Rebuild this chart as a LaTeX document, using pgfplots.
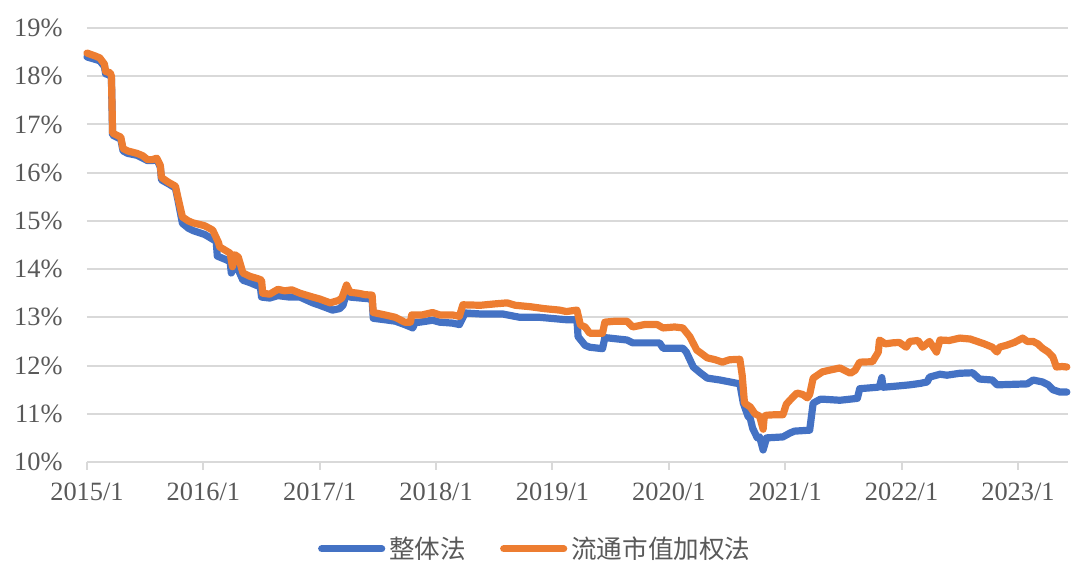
\documentclass[border=0pt]{standalone}
\usepackage{pgfplots}
\pgfplotsset{compat=1.18}
\usepackage{pgfplotstable}
\usepackage{fontspec}
\setmainfont{Liberation Serif}
\newfontfamily\cjk{Noto Sans CJK SC}
\definecolor{sblue}{HTML}{4472C4}
\definecolor{sorange}{HTML}{ED7D31}
\definecolor{gridc}{HTML}{D9D9D9}
\definecolor{txt}{HTML}{595959}

\pgfplotstableread{
t v
2015.00 18.40
2015.07 18.35
2015.11 18.32
2015.15 18.20
2015.16 18.05
2015.20 18.02
2015.21 17.95
2015.22 16.78
2015.27 16.72
2015.29 16.70
2015.31 16.45
2015.35 16.40
2015.43 16.36
2015.48 16.30
2015.52 16.25
2015.56 16.25
2015.60 16.27
2015.63 16.12
2015.64 15.85
2015.70 15.77
2015.76 15.68
2015.78 15.45
2015.82 14.95
2015.87 14.85
2015.91 14.80
2016.01 14.72
2016.08 14.62
2016.11 14.58
2016.12 14.27
2016.20 14.19
2016.23 14.15
2016.24 13.92
2016.27 14.10
2016.29 14.04
2016.34 13.77
2016.40 13.72
2016.49 13.63
2016.50 13.42
2016.57 13.40
2016.64 13.45
2016.74 13.42
2016.83 13.42
2016.94 13.30
2017.00 13.25
2017.11 13.15
2017.17 13.18
2017.20 13.25
2017.23 13.50
2017.26 13.42
2017.35 13.40
2017.45 13.38
2017.46 12.98
2017.56 12.95
2017.65 12.92
2017.73 12.85
2017.80 12.78
2017.82 12.90
2017.86 12.90
2017.97 12.94
2018.03 12.90
2018.14 12.88
2018.20 12.85
2018.25 13.09
2018.38 13.07
2018.57 13.07
2018.72 13.00
2018.89 13.00
2019.12 12.95
2019.21 12.95
2019.22 12.60
2019.28 12.42
2019.32 12.38
2019.43 12.35
2019.45 12.58
2019.64 12.53
2019.69 12.47
2019.92 12.47
2019.95 12.36
2020.12 12.36
2020.15 12.28
2020.21 11.97
2020.27 11.85
2020.33 11.74
2020.44 11.70
2020.61 11.62
2020.64 11.22
2020.68 10.95
2020.70 10.90
2020.72 10.70
2020.76 10.50
2020.78 10.52
2020.81 10.25
2020.84 10.50
2020.98 10.52
2021.04 10.60
2021.08 10.64
2021.21 10.66
2021.24 11.22
2021.30 11.30
2021.34 11.30
2021.47 11.28
2021.62 11.32
2021.64 11.52
2021.79 11.55
2021.81 11.56
2021.83 11.75
2021.84 11.55
2021.94 11.57
2022.07 11.60
2022.16 11.63
2022.22 11.66
2022.24 11.76
2022.33 11.82
2022.39 11.80
2022.50 11.84
2022.61 11.85
2022.67 11.72
2022.78 11.70
2022.82 11.60
2023.08 11.62
2023.13 11.70
2023.21 11.66
2023.26 11.60
2023.30 11.50
2023.36 11.45
2023.42 11.45
}\blue

\pgfplotstableread{
t v
2015.00 18.48
2015.07 18.42
2015.11 18.38
2015.15 18.25
2015.16 18.10
2015.20 18.07
2015.21 18.00
2015.22 16.82
2015.27 16.76
2015.29 16.74
2015.31 16.50
2015.35 16.45
2015.43 16.40
2015.48 16.35
2015.52 16.27
2015.56 16.27
2015.60 16.30
2015.63 16.15
2015.64 15.90
2015.70 15.80
2015.76 15.72
2015.78 15.50
2015.82 15.08
2015.87 15.00
2015.91 14.96
2016.01 14.90
2016.08 14.81
2016.13 14.55
2016.14 14.46
2016.23 14.33
2016.25 14.05
2016.27 14.30
2016.30 14.25
2016.34 13.92
2016.40 13.85
2016.47 13.80
2016.50 13.77
2016.51 13.50
2016.57 13.48
2016.64 13.58
2016.70 13.55
2016.76 13.57
2016.83 13.50
2016.94 13.42
2017.00 13.38
2017.09 13.30
2017.16 13.35
2017.19 13.40
2017.23 13.67
2017.26 13.52
2017.33 13.50
2017.39 13.47
2017.45 13.46
2017.46 13.10
2017.56 13.05
2017.65 13.00
2017.73 12.90
2017.78 12.90
2017.79 13.05
2017.88 13.05
2017.97 13.10
2018.03 13.05
2018.14 13.05
2018.20 13.02
2018.23 13.26
2018.38 13.25
2018.51 13.28
2018.61 13.30
2018.68 13.25
2018.81 13.22
2018.93 13.18
2019.06 13.15
2019.12 13.12
2019.21 13.15
2019.24 12.84
2019.28 12.80
2019.32 12.67
2019.43 12.67
2019.45 12.90
2019.54 12.92
2019.64 12.92
2019.69 12.80
2019.79 12.85
2019.90 12.85
2019.95 12.78
2020.05 12.80
2020.12 12.78
2020.18 12.60
2020.24 12.32
2020.28 12.25
2020.33 12.16
2020.40 12.12
2020.46 12.07
2020.52 12.12
2020.61 12.13
2020.63 11.80
2020.65 11.22
2020.70 11.14
2020.74 11.00
2020.78 10.95
2020.81 10.68
2020.82 10.95
2020.84 10.97
2020.91 10.98
2020.98 10.98
2021.01 11.20
2021.04 11.28
2021.10 11.43
2021.15 11.40
2021.19 11.33
2021.21 11.40
2021.24 11.74
2021.32 11.87
2021.41 11.92
2021.47 11.95
2021.56 11.84
2021.60 11.90
2021.64 12.07
2021.75 12.08
2021.78 12.20
2021.80 12.28
2021.81 12.53
2021.86 12.45
2021.92 12.47
2021.98 12.48
2022.04 12.38
2022.07 12.50
2022.14 12.52
2022.18 12.38
2022.24 12.50
2022.30 12.28
2022.33 12.53
2022.41 12.52
2022.50 12.57
2022.59 12.55
2022.65 12.50
2022.71 12.45
2022.78 12.38
2022.82 12.28
2022.84 12.38
2022.90 12.42
2022.97 12.48
2023.04 12.57
2023.08 12.50
2023.13 12.50
2023.17 12.45
2023.21 12.36
2023.26 12.28
2023.30 12.18
2023.33 11.97
2023.38 11.98
2023.42 11.97
}\orange

\begin{document}
\begin{tikzpicture}
\path[use as bounding box] (-43.5pt,-57pt) rectangle (496.5pt,231pt);
\begin{axis}[
  at={(0pt,0pt)}, anchor=south west,
  scale only axis,
  width=490.5pt, height=217pt,
  xmin=2015, xmax=2023.43,
  ymin=10, ymax=19,
  clip=false,
  separate axis lines,
  axis x line*=bottom,
  axis y line*=left,
  y axis line style={draw=none},
  x axis line style={draw=gridc, line width=1pt},
  ymajorgrids,
  grid style={draw=gridc, line width=1pt},
  xtick={2015,2016,2017,2018,2019,2020,2021,2022,2023},
  xticklabels={2015/1,2016/1,2017/1,2018/1,2019/1,2020/1,2021/1,2022/1,2023/1},
  ytick={10,11,12,13,14,15,16,17,18,19},
  yticklabels={10\%,11\%,12\%,13\%,14\%,15\%,16\%,17\%,18\%,19\%},
  xtick align=outside,
  major tick length=4pt,
  xtick style={draw=gridc, line width=1pt},
  ytick style={draw=none},
  tick label style={font=\fontsize{13.2}{15}\selectfont, text=txt},
  xticklabel style={anchor=north, inner sep=0pt, yshift=-6.5pt},
  yticklabel style={anchor=east, inner sep=0pt, xshift=-12pt},
  legend columns=2,
  legend style={at={(0.458,-0.2)}, anchor=center, draw=none, fill=none,
    font=\cjk\fontsize{12.8}{15}\selectfont, text=txt,
    /tikz/every even column/.append style={column sep=15pt},
    nodes={inner sep=2pt}},
  legend cell align=left,
  legend image code/.code={\draw[#1, line width=3.6pt, line cap=round] (0pt,0pt) -- (30pt,0pt);},
]
\addplot[sblue, line width=3.6pt, line join=round, line cap=round] table[x=t, y=v] {\blue};
\addlegendentry{整体法}
\addplot[sorange, line width=3.6pt, line join=round, line cap=round] table[x=t, y=v] {\orange};
\addlegendentry{流通市值加权法}
\end{axis}
\end{tikzpicture}
\end{document}
